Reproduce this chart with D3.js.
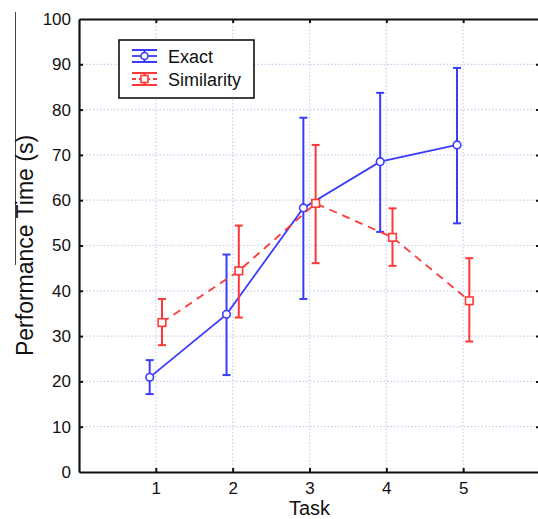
<!DOCTYPE html>
<html>
<head>
<meta charset="utf-8">
<script src="https://cdn.jsdelivr.net/npm/d3@7"></script>
<style>
  html, body { margin: 0; padding: 0; background: #fff; overflow: hidden; }
  svg { display: block; font-family: "Liberation Sans", Arial, sans-serif; }
</style>
</head>
<body>
<div id="chart"></div>
<script>
// task numbers on the x axis
const tasks = [1, 2, 3, 4, 5];
const xTickLabels = ['1', '2', '3', '4', '5'];
const yTicks = [0, 10, 20, 30, 40, 50, 60, 70, 80, 90, 100];

// Exact: mean and error bar ends (s)
const exactMean = [20.9, 34.8, 58.3, 68.5, 72.2];
const exactLow = [17.2, 21.4, 38.2, 53.0, 54.9];
const exactHigh = [24.7, 48.0, 78.2, 83.7, 89.2];

// Similarity: mean and error bar ends (s)
const simMean = [33.0, 44.4, 59.3, 51.8, 37.8];
const simLow = [28.0, 34.1, 46.1, 45.5, 28.8];
const simHigh = [38.2, 54.4, 72.2, 58.2, 47.2];

const width = 538;
const height = 519;
const margin = { top: 19, left: 79, right: -2, bottom: 47 };

const svg = d3
  .select('#chart')
  .append('svg')
  .attr('width', width)
  .attr('height', height);

const x = d3.scaleLinear().domain([0, 6]).range([margin.left, width - margin.right]);
const y = d3.scaleLinear().domain([0, 100]).range([height - margin.bottom, margin.top]);

const blue = '#3b3bff';
const red = '#ff3838';
const gridColor = '#c6d0ee';

// stray frame line at the far left of the original figure
svg.append('line')
  .attr('x1', 15.5).attr('x2', 15.5)
  .attr('y1', 12).attr('y2', 265)
  .attr('stroke', '#444').attr('stroke-width', 1);

// dotted grid
const grid = svg.append('g');
grid.selectAll('line.h')
  .data(yTicks.slice(1, -1))
  .join('line')
  .attr('x1', x(0)).attr('x2', x(6) - 4)
  .attr('y1', d => y(d)).attr('y2', d => y(d))
  .attr('stroke', gridColor).attr('stroke-width', 1.2)
  .attr('stroke-dasharray', '1.5,2');
grid.selectAll('line.v')
  .data(tasks)
  .join('line')
  .attr('x1', d => x(d)).attr('x2', d => x(d))
  .attr('y1', y(0)).attr('y2', y(100))
  .attr('stroke', gridColor).attr('stroke-width', 1.2)
  .attr('stroke-dasharray', '1.5,2');

// axes, matlab style: ticks point inwards
function styleAxis(g, labels) {
  g.select('.domain').attr('stroke', '#111').attr('stroke-width', 2.2);
  g.selectAll('.tick line').attr('stroke', '#111').attr('stroke-width', 2);
  g.selectAll('.tick text')
    .attr('fill', '#111')
    .style('font-size', '17px')
    .style('display', labels ? null : 'none');
}

svg.append('g')
  .attr('transform', `translate(0,${y(0)})`)
  .call(d3.axisBottom(x).tickValues(tasks).tickFormat((d, i) => xTickLabels[i]).tickSizeInner(-4).tickSizeOuter(0).tickPadding(10))
  .call(g => styleAxis(g, true));

svg.append('g')
  .attr('transform', `translate(0,${y(100)})`)
  .call(d3.axisTop(x).tickValues(tasks).tickSizeInner(-4).tickSizeOuter(0))
  .call(g => styleAxis(g, false));

svg.append('g')
  .attr('transform', `translate(${x(0)},0)`)
  .call(d3.axisLeft(y).tickValues(yTicks).tickSizeInner(-4).tickSizeOuter(0).tickPadding(8))
  .call(g => styleAxis(g, true))
  .call(g => g.selectAll('.tick line').filter(d => d === 0 || d === 100).remove());

// right axis lies just outside the cropped picture, only its ticks show
svg.append('g')
  .attr('transform', `translate(${x(6)},0)`)
  .call(d3.axisRight(y).tickValues(yTicks.slice(1, -1)).tickSizeInner(-4).tickSizeOuter(0))
  .call(g => styleAxis(g, false))
  .call(g => g.select('.domain').remove());

// axis titles
svg.append('text')
  .attr('transform', `translate(33,${(y(0) + y(100)) / 2}) rotate(-90)`)
  .attr('text-anchor', 'middle')
  .attr('fill', '#111')
  .style('font-size', '23px')
  .text('Performance Time (s)');

svg.append('text')
  .attr('x', (x(0) + x(6)) / 2)
  .attr('y', 515)
  .attr('text-anchor', 'middle')
  .attr('fill', '#111')
  .style('font-size', '20px')
  .text('Task');

// series
const series = [
  { name: 'Exact', color: blue, mean: exactMean, low: exactLow, high: exactHigh, shift: -0.08, dash: null, marker: 'circle' },
  { name: 'Similarity', color: red, mean: simMean, low: simLow, high: simHigh, shift: 0.08, dash: '8,6', marker: 'square' },
];

const line = d3.line().x(d => x(d.t)).y(d => y(d.v));

series.forEach(s => {
  const pts = tasks.map((t, i) => ({ t: t + s.shift, v: s.mean[i], lo: s.low[i], hi: s.high[i] }));
  const g = svg.append('g');

  g.append('path')
    .datum(pts)
    .attr('d', line)
    .attr('fill', 'none')
    .attr('stroke', s.color)
    .attr('stroke-width', 1.8)
    .attr('stroke-dasharray', s.dash);

  const bars = g.selectAll('g.bar').data(pts).join('g');
  bars.append('line')
    .attr('x1', d => x(d.t)).attr('x2', d => x(d.t))
    .attr('y1', d => y(d.lo)).attr('y2', d => y(d.hi))
    .attr('stroke', s.color).attr('stroke-width', 2);
  ['lo', 'hi'].forEach(k => {
    bars.append('line')
      .attr('x1', d => x(d.t) - 4).attr('x2', d => x(d.t) + 4)
      .attr('y1', d => y(d[k])).attr('y2', d => y(d[k]))
      .attr('stroke', s.color).attr('stroke-width', 2);
  });

  if (s.marker === 'circle') {
    bars.append('circle')
      .attr('cx', d => x(d.t)).attr('cy', d => y(d.v)).attr('r', 3.8)
      .attr('fill', '#fff').attr('stroke', s.color).attr('stroke-width', 1.6);
  } else {
    bars.append('rect')
      .attr('x', d => x(d.t) - 3.8).attr('y', d => y(d.v) - 3.8)
      .attr('width', 7.6).attr('height', 7.6)
      .attr('fill', '#fff').attr('stroke', s.color).attr('stroke-width', 1.6);
  }
});

// legend
const legend = svg.append('g').attr('transform', 'translate(119,40)');
legend.append('rect')
  .attr('width', 135).attr('height', 58)
  .attr('fill', '#fff').attr('stroke', '#111').attr('stroke-width', 1.6);

series.forEach((s, i) => {
  const cy = 16 + i * 23;
  const item = legend.append('g').attr('transform', `translate(0,${cy})`);
  [-6, 6].forEach(dy => {
    item.append('line')
      .attr('x1', 13).attr('x2', 38).attr('y1', dy).attr('y2', dy)
      .attr('stroke', s.color).attr('stroke-width', 2);
  });
  item.append('line')
    .attr('x1', 13).attr('x2', 38).attr('y1', 0).attr('y2', 0)
    .attr('stroke', s.color).attr('stroke-width', 1.8)
    .attr('stroke-dasharray', s.dash ? '4,3' : null);
  item.append('line')
    .attr('x1', 25.5).attr('x2', 25.5).attr('y1', -6).attr('y2', 6)
    .attr('stroke', s.color).attr('stroke-width', 2);
  if (s.marker === 'circle') {
    item.append('circle').attr('cx', 25.5).attr('cy', 0).attr('r', 3.5)
      .attr('fill', '#fff').attr('stroke', s.color).attr('stroke-width', 1.6);
  } else {
    item.append('rect').attr('x', 22).attr('y', -3.5).attr('width', 7).attr('height', 7)
      .attr('fill', '#fff').attr('stroke', s.color).attr('stroke-width', 1.6);
  }
  item.append('text')
    .attr('x', 49).attr('y', 7)
    .attr('fill', '#111')
    .style('font-size', '18px')
    .text(s.name);
});
</script>
</body>
</html>
